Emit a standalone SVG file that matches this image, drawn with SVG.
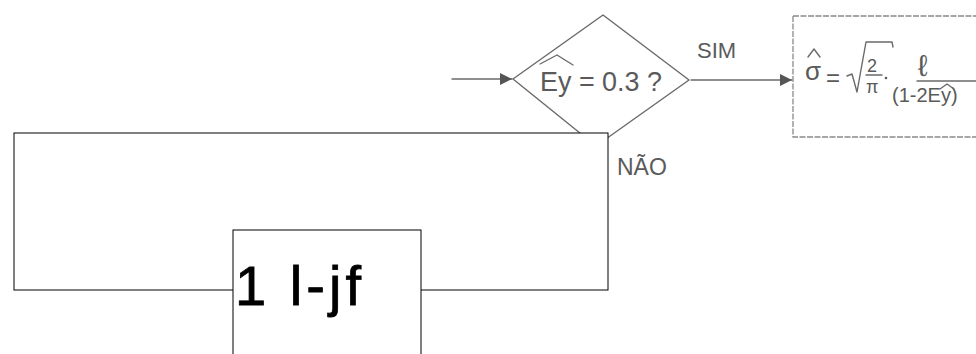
<svg xmlns="http://www.w3.org/2000/svg" width="976" height="354" viewBox="0 0 976 354">
<style>
  .hand { font-family: "Liberation Sans", "DejaVu Sans", sans-serif; fill: #5a5a5a; }
  .sk { fill: none; stroke: #6a6a6a; stroke-width: 1.4; stroke-linecap: round; stroke-linejoin: round; }
  .frame { fill: #ffffff; stroke: #000000; stroke-width: 1; }
</style>
<defs>
  <marker id="arr" viewBox="0 0 10 10" refX="10" refY="5" markerWidth="18" markerHeight="12" markerUnits="userSpaceOnUse" orient="auto">
    <path d="M0,0 L10,5 L0,10 z" fill="#555555"/>
  </marker>
</defs>
<rect width="976" height="354" fill="#ffffff"/>

<g id="connectors">
  <line class="sk" x1="452" y1="79" x2="512" y2="79" marker-end="url(#arr)"/>
  <line class="sk" x1="691" y1="80" x2="792" y2="80" marker-end="url(#arr)"/>
</g>

<g id="decision">
  <polygon class="sk" points="513,79 603,15 689,80 596,146"/>
  <path class="sk" d="M540,64 L557,55 L573,65"/>
  <text class="hand" x="540" y="91" font-size="28" textLength="122" lengthAdjust="spacingAndGlyphs">Ey = 0.3 ?</text>
</g>

<g id="label-sim">
  <text class="hand" x="697" y="58" font-size="22">SIM</text>
</g>
<g id="label-nao">
  <text class="hand" x="617" y="175" font-size="23">NÃO</text>
</g>

<g id="estimate">
  <path d="M793,16 L980,16 M793,16 L793,137 L980,137" fill="none" stroke="#8a8a8a" stroke-width="1.3" stroke-dasharray="6 1.5"/>
  <path class="sk" d="M808,57 L814,49 L820,57"/>
  <text class="hand" x="805" y="80" font-size="26">σ</text>
  <text class="hand" x="826" y="86" font-size="24">=</text>
  <path class="sk" d="M847,76 L852,74 L857,92 L866,42 L892,42 L893,47"/>
  <text class="hand" x="867" y="72" font-size="18">2</text>
  <line class="sk" x1="866" y1="75" x2="882" y2="75"/>
  <text class="hand" x="866" y="93" font-size="18">π</text>
  <circle cx="886" cy="78" r="1.3" fill="#5a5a5a"/>
  <text class="hand" x="918" y="76" font-size="30">ℓ</text>
  <line class="sk" x1="917" y1="81" x2="980" y2="81"/>
  <text class="hand" x="892" y="102" font-size="20">(1-2Ey)</text>
  <path class="sk" d="M940,89 L947,84 L954,89"/>
</g>

<g id="loop">
  <rect class="frame" x="14" y="133" width="594" height="157"/>
</g>

<g id="node-1ljf">
  <rect class="frame" x="233" y="230" width="188" height="140"/>
  <text x="235" y="305" font-family="Liberation Sans, Arial, sans-serif" font-size="56" fill="#000000" stroke="#000000" stroke-width="0.8" textLength="126" lengthAdjust="spacing">1 l-jf</text>
</g>
</svg>
